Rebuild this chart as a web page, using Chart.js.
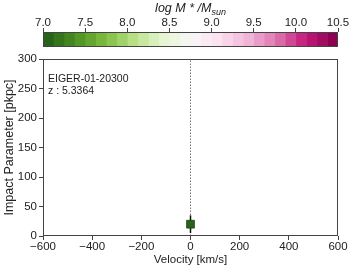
<!DOCTYPE html>
<html><head><meta charset="utf-8">
<script src="https://cdn.jsdelivr.net/npm/chart.js@4/dist/chart.umd.min.js"></script>
<style>
html,body{margin:0;padding:0;background:#fff;}
#wrap{position:relative;width:353px;height:270px;overflow:hidden;font-family:"Liberation Sans",Arial,sans-serif;}
canvas{position:absolute;left:0;top:0;}
.lbl{position:absolute;font-size:10.5px;color:#222;white-space:nowrap;line-height:12px;}
#ctitle{position:absolute;left:43px;width:295px;top:1px;text-align:center;font-style:italic;font-size:12.5px;color:#222;line-height:14px;}
#ctitle sub{font-size:9px;vertical-align:-3px;line-height:0;}
</style></head>
<body>
<div id="wrap">
  <canvas id="main" width="353" height="270"></canvas>
  <canvas id="cbar" width="353" height="50"></canvas>
  <div id="ctitle">log M * /M<sub>sun</sub></div>
  <div class="lbl" style="left:48px;top:72px;">EIGER-01-20300</div>
  <div class="lbl" style="left:48px;top:84px;">z : 5.3364</div>
</div>
<script>
// ---- data ----
const velocity = [0];            // km/s
const impactParam = [20];        // pkpc
const impactErr = [15];          // pkpc
const logMass = [7.0];           // log M*/Msun
const massBins = [7.0,7.125,7.25,7.375,7.5,7.625,7.75,7.875,8.0,8.125,8.25,8.375,8.5,8.625,8.75,8.875,9.0,9.125,9.25,9.375,9.5,9.625,9.75,9.875,10.0,10.125,10.25,10.375,10.5];
const massTicks = [7.0,7.5,8.0,8.5,9.0,9.5,10.0,10.5];
const velTicks = [-600,-400,-200,0,200,400,600];
const ipTicks = [0,50,100,150,200,250,300];

// PiYG reversed colormap
const piyg = ['#8e0152','#c51b7d','#de77ae','#f1b6da','#fde0ef','#f7f7f7','#e6f5d0','#b8e186','#7fbc41','#4d9221','#276419'].reverse();
function hex(h){return [parseInt(h.substr(1,2),16),parseInt(h.substr(3,2),16),parseInt(h.substr(5,2),16)];}
function cmap(t){
  t=Math.max(0,Math.min(1,t));
  const p=t*(piyg.length-1); const i=Math.min(Math.floor(p),piyg.length-2); const f=p-i;
  const a=hex(piyg[i]), b=hex(piyg[i+1]);
  return 'rgb('+a.map((v,k)=>Math.round(v+(b[k]-v)*f)).join(',')+')';
}
const mMin = massBins[0], mMax = massBins[massBins.length-1];
const nSeg = massBins.length-1;

const FONT = '"Liberation Sans", Arial, sans-serif';
const AX = '#444';

const frame = {
  id:'frame',
  afterDraw(c){
    const a=c.chartArea, ctx=c.ctx;
    ctx.save(); ctx.strokeStyle=AX; ctx.lineWidth=1;
    ctx.strokeRect(Math.round(a.left)+0.5, Math.round(a.top)+0.5, Math.round(a.right-a.left)-1, Math.round(a.bottom-a.top)-1);
    ctx.restore();
  }
};

// ---- colorbar chart ----
new Chart(document.getElementById('cbar'), {
  type:'bar',
  data:{
    labels:[''],
    datasets: massBins.slice(0,-1).map((lo,i)=>({
      data:[[lo, massBins[i+1]]],
      backgroundColor: cmap(i/(nSeg-1)),
      borderWidth:0, barPercentage:1, categoryPercentage:1, grouped:false
    }))
  },
  options:{
    indexAxis:'y', responsive:false, animation:false,
    layout:{padding:{left:43,right:15,top:0,bottom:3}},
    plugins:{legend:{display:false},tooltip:{enabled:false}},
    scales:{
      x:{type:'linear', position:'top', min:mMin, max:mMax,
        afterBuildTicks:s=>{s.ticks=massTicks.map(v=>({value:v}));},
        ticks:{callback:v=>Number(v).toFixed(1), font:{family:FONT,size:11.5}, color:'#222', padding:-2, maxRotation:0, autoSkip:false},
        grid:{drawOnChartArea:false, tickLength:4, color:AX, tickWidth:1},
        border:{display:false},
        afterFit:s=>{s.height=32;}
      },
      y:{display:false}
    }
  },
  plugins:[frame]
});

// ---- main chart ----
const markers = velocity.map((v,i)=>({x:v, y:impactParam[i]}));
const errData = [];
velocity.forEach((v,i)=>{ errData.push({x:v,y:impactParam[i]-impactErr[i]}); errData.push({x:v,y:impactParam[i]+impactErr[i]}); errData.push({x:NaN,y:NaN}); });

new Chart(document.getElementById('main'), {
  type:'scatter',
  data:{datasets:[
    {data:markers, pointStyle:'rect', pointRadius:5.5, backgroundColor:logMass.map(m=>cmap((m-mMin)/(mMax-mMin))), borderColor:'#1b3d10', borderWidth:0.8, order:0},
    {data:errData, showLine:true, spanGaps:false, pointRadius:0, borderColor:'#111', borderWidth:1.5, order:1},
    {data:[{x:0,y:ipTicks[0]},{x:0,y:ipTicks[ipTicks.length-1]}], showLine:true, pointRadius:0, borderColor:'#555', borderWidth:0.8, borderDash:[1.5,1.5], order:2}
  ]},
  options:{
    responsive:false, animation:false,
    layout:{padding:{left:0,right:15,top:59,bottom:0}},
    plugins:{legend:{display:false},tooltip:{enabled:false}},
    scales:{
      x:{type:'linear', min:velTicks[0], max:velTicks[velTicks.length-1],
        afterBuildTicks:s=>{s.ticks=velTicks.map(v=>({value:v}));},
        ticks:{callback:v=>v<0?'\u2212'+Math.abs(v):String(v), font:{family:FONT,size:11.5}, color:'#222', padding:0, maxRotation:0, autoSkip:false},
        grid:{drawOnChartArea:false, tickLength:4, color:AX},
        border:{display:false},
        title:{display:true, text:'Velocity [km/s]', font:{family:FONT,size:11.5}, color:'#222', padding:{top:0,bottom:3}},
        afterFit:s=>{s.height=34;}
      },
      y:{type:'linear', min:ipTicks[0], max:ipTicks[ipTicks.length-1],
        afterBuildTicks:s=>{s.ticks=ipTicks.map(v=>({value:v}));},
        ticks:{font:{family:FONT,size:11.5}, color:'#222', padding:2, autoSkip:false},
        grid:{drawOnChartArea:false, tickLength:4, color:AX},
        border:{display:false},
        title:{display:true, text:'Impact Parameter [pkpc]', font:{family:FONT,size:12.5}, color:'#222', padding:{top:2,bottom:0}},
        afterFit:s=>{s.width=43;}
      }
    }
  },
  plugins:[frame]
});
</script>
</body></html>
